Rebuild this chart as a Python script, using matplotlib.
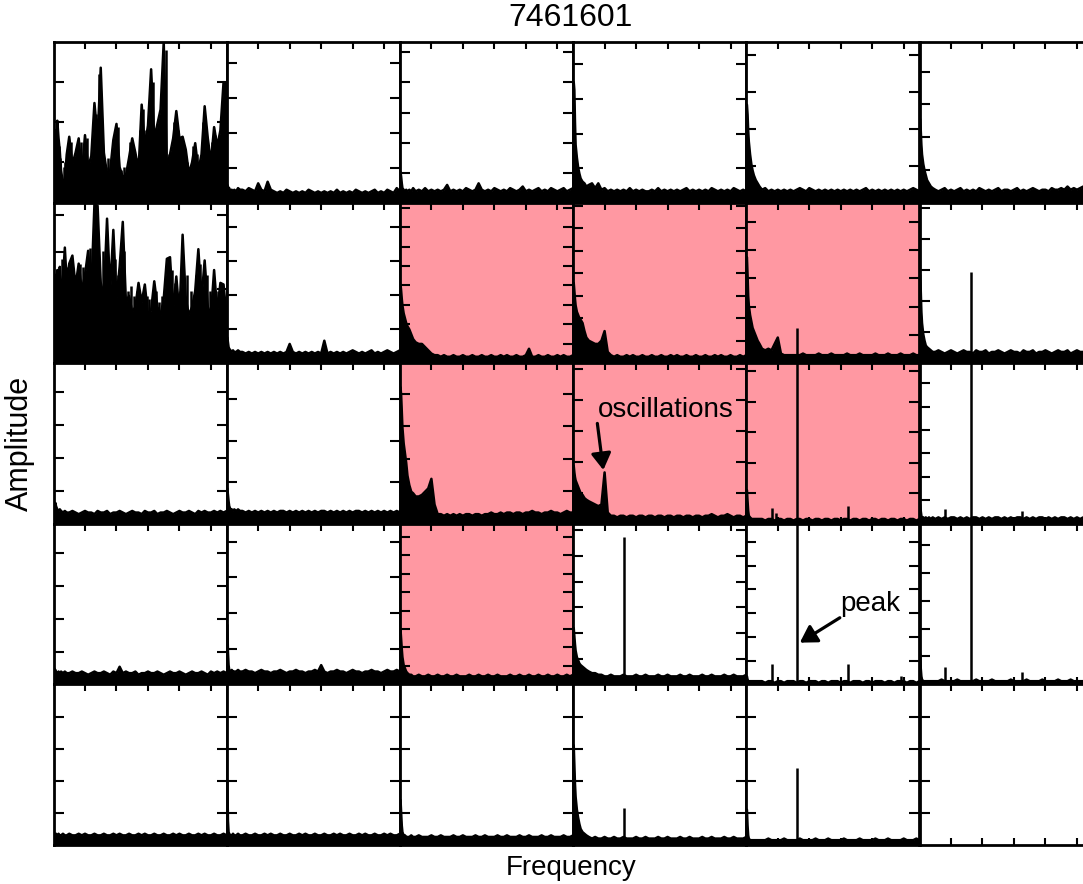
import numpy as np
import matplotlib.pyplot as plt

plt.rcParams['font.family'] = ['Liberation Sans', 'DejaVu Sans']

# frequency grid (uHz), finer near zero where the low-frequency rise sits
freq = [0, 1, 2, 3, 4, 6, 8, 10, 12, 15, 18, 21,
        25, 30, 35, 40, 45, 50, 55, 60, 65, 70,
        75, 80, 85, 90, 95, 100, 105, 110, 115, 120,
        125, 130, 135, 140, 145, 150, 155, 160, 165, 170,
        175, 180, 185, 190, 195, 200, 205, 210, 215, 220,
        225, 230, 235, 240, 245, 250, 255, 260, 265, 270, 275]

# amplitude of each panel, in percent of the panel's y range
a00 = [30, 38, 25, 45, 33, 51, 40, 32, 20, 12, 14, 30,
       41, 24, 31, 40, 18, 42, 22, 29, 62, 40,
       84, 31, 18, 20, 39, 49, 22, 16, 17, 28,
       40, 31, 20, 61, 35, 48, 83, 40, 49, 58,
       100, 22, 30, 40, 57, 40, 41, 33, 18, 25,
       37, 20, 30, 60, 40, 25, 47, 35, 45, 75, 70]
a01 = [11, 11, 10, 9, 9, 7, 8, 7, 8, 7, 9, 8,
       8, 7, 9, 8, 7, 12, 8, 7, 13, 8,
       7, 6, 7, 6, 8, 7, 6, 7, 6, 7,
       6, 8, 7, 6, 7, 6, 7, 6, 7, 6,
       8, 6, 7, 6, 7, 6, 8, 7, 6, 7,
       6, 7, 8, 6, 7, 6, 8, 7, 6, 9, 7]
a02 = [19, 19, 16, 12, 9, 8, 7, 8, 7, 8, 7, 9,
       7, 8, 7, 9, 7, 8, 7, 8, 7, 8,
       11, 7, 8, 7, 8, 7, 9, 8, 7, 8,
       12, 8, 7, 8, 7, 9, 8, 7, 8, 7,
       9, 8, 7, 8, 10, 7, 8, 7, 8, 9,
       7, 8, 7, 9, 8, 7, 8, 9, 7, 8, 9]
a03 = [75, 75, 70, 50, 36, 28, 22, 18, 15, 13, 12, 10,
       11, 12, 9, 12, 8, 9, 7, 8, 7, 8,
       7, 8, 7, 9, 7, 8, 7, 8, 7, 7,
       8, 7, 9, 7, 8, 7, 8, 7, 8, 7,
       8, 9, 7, 8, 7, 8, 7, 8, 7, 9,
       8, 7, 8, 7, 8, 7, 9, 8, 7, 8, 7]
a04 = [61, 61, 55, 45, 38, 30, 24, 20, 17, 14, 12, 10,
       8, 9, 7, 8, 7, 8, 7, 8, 7, 8,
       7, 8, 9, 8, 7, 9, 8, 7, 8, 7,
       8, 7, 8, 7, 8, 7, 8, 7, 8, 7,
       8, 7, 8, 9, 7, 8, 7, 8, 7, 8,
       7, 8, 7, 8, 7, 8, 7, 8, 9, 8, 7]
a05 = [52, 52, 45, 36, 30, 24, 20, 17, 14, 12, 10, 9,
       8, 7, 8, 9, 7, 8, 7, 8, 9, 7,
       8, 7, 8, 7, 9, 8, 7, 8, 7, 8,
       9, 7, 8, 8, 7, 8, 9, 7, 8, 7,
       8, 9, 8, 7, 8, 8, 7, 9, 8, 8,
       9, 8, 10, 8, 9, 8, 9, 10, 8, 9, 8]

a10 = [45, 50, 42, 55, 48, 58, 50, 60, 45, 52, 72, 50,
       62, 67, 48, 62, 45, 55, 70, 45, 99, 98,
       50, 42, 90, 45, 83, 40, 60, 88, 38, 42,
       32, 35, 50, 38, 49, 30, 33, 51, 35, 30,
       40, 65, 66, 33, 54, 30, 80, 40, 30, 35,
       45, 71, 40, 64, 35, 30, 58, 32, 50, 49, 28]
a11 = [16, 16, 13, 10, 9, 8, 7, 8, 7, 7, 8, 7,
       7, 6, 7, 6, 7, 6, 7, 6, 7, 6,
       7, 6, 7, 6, 7, 12, 7, 6, 7, 6,
       7, 6, 7, 6, 7, 6, 14, 6, 7, 6,
       7, 6, 7, 6, 7, 8, 7, 6, 7, 6,
       7, 8, 6, 7, 6, 7, 8, 7, 6, 7, 8]
a12 = [49, 49, 45, 40, 36, 31, 28, 25, 23, 21, 18, 15,
       13, 12, 12, 10, 8, 6, 5, 5, 4, 5,
       4, 4, 5, 4, 4, 5, 4, 4, 5, 4,
       4, 5, 4, 4, 5, 4, 4, 5, 4, 5,
       4, 4, 5, 4, 4, 5, 9, 4, 4, 5,
       4, 4, 5, 4, 4, 5, 4, 5, 4, 4, 5]
a13 = [50, 50, 45, 40, 36, 32, 30, 28, 27, 25, 20, 16,
       14, 13, 12, 12, 14, 20, 7, 5, 4, 5,
       4, 4, 5, 4, 5, 4, 4, 5, 4, 4,
       5, 4, 4, 5, 4, 4, 5, 4, 5, 4,
       4, 5, 4, 4, 5, 4, 4, 5, 4, 4,
       5, 4, 5, 4, 4, 5, 4, 4, 5, 4, 5]
a14 = [66, 66, 55, 42, 36, 30, 26, 22, 20, 17, 14, 12,
       9, 8, 9, 8, 12, 16, 6, 5, 5, 5,
       5, 5, 5, 6, 5, 5, 5, 5, 6, 5,
       5, 5, 6, 5, 5, 5, 5, 6, 5, 5,
       5, 6, 5, 5, 5, 5, 6, 5, 5, 5,
       6, 5, 5, 5, 6, 5, 5, 5, 6, 5, 5]
a15 = [55, 55, 45, 32, 25, 18, 14, 11, 10, 9, 8, 7,
       7, 8, 7, 6, 7, 8, 7, 6, 7, 8,
       7, 7, 6, 8, 7, 7, 8, 6, 7, 7,
       8, 7, 6, 7, 8, 7, 7, 6, 8, 7,
       7, 8, 6, 7, 7, 8, 7, 6, 7, 8,
       7, 7, 8, 6, 7, 8, 7, 7, 8, 7, 8]

a20 = [8, 9, 10, 13, 11, 9, 8, 9, 8, 7, 8, 7,
       7, 8, 7, 6, 7, 8, 7, 7, 6, 8,
       7, 7, 8, 6, 7, 7, 8, 7, 6, 7,
       8, 7, 7, 6, 8, 7, 7, 8, 6, 7,
       7, 8, 7, 6, 7, 8, 7, 7, 8, 7,
       6, 8, 7, 8, 7, 7, 8, 7, 8, 7, 8]
a21 = [22, 22, 18, 14, 11, 9, 9, 8, 9, 8, 9, 8,
       8, 7, 8, 7, 8, 7, 8, 7, 8, 7,
       8, 7, 8, 8, 7, 8, 7, 8, 7, 8,
       7, 8, 7, 8, 7, 8, 8, 7, 8, 7,
       8, 7, 8, 7, 8, 7, 8, 8, 7, 8,
       7, 8, 7, 8, 7, 8, 7, 8, 7, 8, 7]
a22 = [85, 85, 80, 70, 60, 50, 44, 38, 30, 24, 20, 19,
       17, 17, 18, 20, 22, 28, 12, 6, 6, 5,
       6, 5, 6, 5, 6, 5, 6, 6, 5, 6,
       6, 5, 6, 6, 7, 6, 6, 7, 6, 7,
       7, 6, 7, 7, 6, 7, 7, 8, 7, 7,
       6, 7, 7, 8, 7, 7, 6, 7, 8, 7, 7]
a23 = [36, 36, 32, 29, 27, 25, 23, 21, 19, 18, 16, 15,
       14, 13, 12, 11, 12, 32, 7, 5, 5, 4,
       5, 5, 4, 5, 5, 4, 5, 5, 4, 5,
       5, 4, 5, 5, 4, 5, 5, 4, 5, 5,
       4, 5, 5, 4, 5, 5, 4, 5, 5, 6,
       5, 4, 5, 5, 6, 5, 4, 5, 5, 4, 5]
a24 = [21, 21, 14, 8, 5, 4, 3, 3, 3, 3, 3, 3,
       3, 2, 3, 3, 2, 3, 3, 2, 3, 3,
       2, 3, 3, 2, 3, 3, 2, 3, 3, 2,
       3, 3, 2, 3, 3, 2, 3, 3, 2, 3,
       3, 2, 3, 3, 2, 3, 3, 2, 3, 3,
       2, 3, 3, 2, 3, 3, 2, 3, 3, 2, 3]
a25 = [12, 12, 8, 5, 4, 4, 3, 4, 3, 4, 3, 4,
       3, 4, 3, 4, 3, 4, 4, 3, 4, 3,
       4, 3, 4, 4, 3, 4, 3, 4, 3, 4,
       4, 3, 4, 3, 4, 3, 4, 4, 3, 4,
       3, 4, 3, 4, 4, 3, 4, 3, 4, 3,
       4, 4, 3, 4, 3, 4, 3, 4, 4, 3, 4]

a30 = [10, 10, 9, 9, 8, 7, 8, 7, 8, 7, 8, 7,
       7, 8, 7, 7, 8, 7, 6, 7, 8, 7,
       7, 8, 7, 6, 8, 7, 11, 7, 8, 7,
       7, 8, 6, 7, 7, 8, 7, 7, 8, 7,
       6, 7, 8, 7, 7, 8, 7, 6, 7, 8,
       7, 7, 8, 7, 6, 8, 7, 8, 7, 8, 7]
a31 = [37, 37, 20, 12, 9, 8, 9, 8, 8, 8, 9, 8,
       8, 9, 8, 8, 7, 8, 9, 8, 8, 7,
       8, 8, 9, 8, 7, 8, 8, 9, 8, 8,
       7, 8, 8, 9, 8, 12, 8, 7, 8, 8,
       9, 8, 8, 7, 8, 9, 8, 8, 7, 8,
       8, 9, 8, 8, 7, 8, 9, 8, 8, 9, 8]
a32 = [34, 34, 28, 22, 17, 12, 10, 8, 7, 6, 6, 5,
       5, 6, 5, 5, 6, 5, 5, 6, 5, 5,
       6, 5, 5, 6, 5, 5, 5, 6, 5, 5,
       6, 5, 5, 6, 5, 5, 6, 5, 5, 5,
       6, 5, 5, 6, 5, 5, 6, 5, 5, 6,
       5, 5, 6, 5, 5, 6, 5, 5, 6, 5, 6]
a33 = [35, 35, 30, 25, 21, 17, 15, 13, 12, 11, 10, 9,
       8, 7, 7, 6, 6, 5, 5, 6, 5, 5,
       5, 6, 5, 5, 5, 6, 5, 5, 6, 5,
       5, 5, 6, 5, 5, 6, 5, 5, 5, 6,
       5, 5, 6, 5, 5, 5, 6, 5, 5, 6,
       5, 5, 5, 6, 5, 5, 6, 5, 5, 5, 6]
a34 = [5, 5, 3, 2, 2, 2, 2, 2, 2, 2, 2, 2,
       2, 1, 2, 2, 1, 2, 2, 1, 2, 2,
       2, 1, 2, 2, 1, 2, 2, 2, 1, 2,
       2, 1, 2, 2, 2, 1, 2, 2, 1, 2,
       2, 2, 1, 2, 2, 1, 2, 2, 2, 1,
       2, 2, 1, 2, 2, 2, 1, 2, 2, 1, 2]
a35 = [19, 19, 10, 5, 3, 2, 2, 2, 2, 2, 2, 2,
       2, 2, 3, 2, 2, 2, 2, 3, 2, 2,
       2, 2, 2, 3, 2, 2, 2, 2, 3, 2,
       2, 2, 2, 2, 3, 2, 2, 2, 2, 3,
       2, 2, 2, 2, 3, 2, 2, 2, 2, 3,
       2, 2, 2, 3, 2, 2, 2, 2, 3, 2, 2]

a40 = [7, 7, 7, 6, 7, 6, 7, 6, 6, 7, 6, 6,
       7, 6, 6, 7, 6, 7, 6, 6, 7, 6,
       6, 7, 6, 6, 7, 6, 7, 6, 6, 7,
       6, 6, 7, 6, 7, 6, 6, 7, 6, 6,
       7, 6, 6, 7, 6, 7, 6, 6, 7, 6,
       6, 7, 6, 7, 6, 6, 7, 6, 6, 7, 6]
a41 = [40, 40, 15, 8, 7, 6, 6, 7, 6, 6, 7, 6,
       6, 7, 6, 6, 7, 6, 6, 7, 6, 7,
       6, 6, 7, 6, 6, 7, 6, 6, 7, 6,
       7, 6, 6, 7, 6, 6, 7, 6, 6, 7,
       6, 7, 6, 6, 7, 6, 6, 7, 6, 7,
       6, 6, 7, 6, 6, 7, 6, 7, 6, 6, 7]
a42 = [28, 28, 20, 12, 8, 6, 6, 5, 5, 5, 6, 5,
       5, 6, 5, 5, 5, 6, 5, 5, 6, 5,
       5, 5, 6, 5, 5, 6, 5, 5, 5, 6,
       5, 5, 6, 5, 5, 5, 6, 5, 5, 6,
       5, 5, 5, 6, 5, 5, 6, 5, 5, 5,
       6, 5, 5, 6, 5, 5, 5, 6, 5, 5, 6]
a43 = [62, 62, 50, 38, 30, 22, 17, 13, 10, 8, 7, 6,
       5, 4, 5, 4, 4, 5, 4, 4, 5, 4,
       4, 5, 4, 4, 4, 5, 4, 4, 5, 4,
       4, 4, 5, 4, 4, 5, 4, 4, 4, 5,
       4, 4, 5, 4, 4, 4, 5, 4, 4, 5,
       4, 4, 4, 5, 4, 4, 5, 4, 4, 4, 5]
a44 = [22, 22, 12, 6, 4, 3, 3, 3, 3, 3, 3, 3,
       3, 3, 4, 3, 3, 3, 3, 4, 3, 3,
       3, 3, 4, 3, 3, 3, 3, 4, 3, 3,
       3, 4, 3, 3, 3, 3, 4, 3, 3, 3,
       3, 4, 3, 3, 3, 3, 4, 3, 3, 3,
       4, 3, 3, 3, 3, 4, 3, 3, 3, 4, 3]

spectra = [[a00, a01, a02, a03, a04, a05],
           [a10, a11, a12, a13, a14, a15],
           [a20, a21, a22, a23, a24, a25],
           [a30, a31, a32, a33, a34, a35],
           [a40, a41, a42, a43, a44, None]]

# narrow peaks between grid bins: (frequencies, amplitudes in percent)
spikes = {(0, 0): ([2, 5, 9, 11, 17, 19, 23, 27, 33, 37, 43, 47, 53, 57, 62,
                    68, 72, 77, 83, 87, 92, 98, 103, 107, 112, 117, 122, 127,
                    132, 137, 142, 147, 152, 158, 162, 167, 172, 178, 183, 187,
                    192, 197, 202, 207, 212, 217, 222, 228, 232, 237, 242, 247,
                    252, 257, 262, 264, 267, 272],
                   [30, 40, 35, 28, 22, 25, 30, 38, 28, 35, 38, 25, 40, 25, 30,
                    55, 80, 45, 22, 28, 25, 40, 47, 20, 22, 20, 38, 30,
                    28, 45, 58, 45, 40, 75, 45, 35, 55, 95, 30, 28,
                    50, 45, 38, 35, 25, 22, 35, 30, 25, 50, 45, 30,
                    38, 42, 40, 35, 60, 76]),
          (1, 0): ([4, 13, 17, 22, 28, 35, 42, 47, 52, 58, 63, 68, 78, 82, 88,
                    98, 103, 112, 118, 123, 128, 133, 138, 143, 148, 152, 158,
                    163, 168, 172, 178, 188, 193, 198, 201, 208, 212, 218, 223,
                    227, 233, 238, 243, 248, 252, 258, 262, 268, 273],
                   [55, 65, 60, 60, 58, 55, 62, 60, 55, 72, 75, 85, 70, 60, 62,
                    65, 55, 70, 45, 48, 42, 45, 40, 45, 42, 40, 45,
                    45, 38, 42, 45, 58, 50, 40, 45, 42, 55, 45, 40,
                    55, 62, 45, 55, 45, 40, 45, 45, 49, 35]),
          (1, 4): ([81], [22]),
          (1, 5): ([81], [57]),
          (2, 4): ([41, 47, 81, 162], [10, 7, 105, 11]),
          (2, 5): ([41, 81, 162], [9, 105, 8]),
          (3, 3): ([81], [92]),
          (3, 4): ([41, 81, 162, 246], [13, 105, 13, 5]),
          (3, 5): ([41, 81, 162], [11, 105, 8]),
          (4, 3): ([81], [23]),
          (4, 4): ([81], [48])}

# y tick spacing of each panel, percent of its range
ystep = [[25.0, 21.8, 18.7, 21.5, 22.9, 20.4],
         [23.0, 21.2, 12.1, 14.0, 17.6, 19.3],
         [20.5, 25.8, 20.2, 19.3, 19.0, 14.6],
         [20.4, 22.2, 11.5, 16.0, 14.8, 17.4],
         [20.0, 20.0, 20.0, 20.0, 20.0, 20.0]]

highlighted = [(1, 2), (1, 3), (1, 4), (2, 2), (2, 3), (2, 4), (3, 2)]
pink = '#ff98a2'

W, H = 1083, 884
fig = plt.figure(figsize=(W / 100, H / 100), dpi=100)
left0, colw, top0, rowh = 53.5, 173.2, 42.0, 160.6

axes = {}
for r in range(5):
    for c in range(6):
        ax = fig.add_axes([(left0 + c * colw) / W, 1 - (top0 + (r + 1) * rowh) / H,
                           colw / W, rowh / H])
        axes[(r, c)] = ax
        if (r, c) in highlighted:
            ax.set_facecolor(pink)
        amp = spectra[r][c]
        if amp is not None:
            assert len(amp) == len(freq)
            ax.fill_between(freq, 0, amp, color='k', lw=0)
            ax.plot(freq, amp, color='k', lw=1.8)
        if (r, c) in spikes:
            pf, pa = spikes[(r, c)]
            ax.vlines(pf, 0, pa, color='k', lw=1.8)
        ax.set_xlim(0, 275)
        ax.set_ylim(0, 100)
        ax.set_xticks([50, 100, 150, 200, 250])
        st = ystep[r][c]
        ax.set_yticks(np.arange(st, 100 - 1, st))
        ax.tick_params(direction='in', top=True, right=True, width=1.5,
                       labelbottom=False, labelleft=False)
        ax.tick_params(axis='x', length=5)
        ax.tick_params(axis='y', length=7)
        for s in ax.spines.values():
            s.set_linewidth(2.0)

fig.text(571 / W, 1 - 18 / H, '7461601', ha='center', va='center', fontsize=23)
fig.text(20 / W, 1 - 443 / H, 'Amplitude', ha='center', va='center',
         rotation=90, fontsize=22)
fig.text(571 / W, 1 - 868 / H, 'Frequency', ha='center', va='center', fontsize=20)

arrow = dict(arrowstyle='-|>,head_length=0.5,head_width=0.3', color='k', lw=2.3,
             shrinkA=0, shrinkB=0, mutation_scale=20)

ax = axes[(2, 3)]
ax.text(39.5, 71, 'oscillations', ha='left', va='center', fontsize=20, clip_on=False)
ax.annotate('', xy=(48, 33.5), xytext=(38.5, 62.5), arrowprops=arrow)

ax = axes[(3, 4)]
ax.text(148.5, 50, 'peak', ha='left', va='center', fontsize=20, clip_on=False)
ax.annotate('', xy=(85, 26), xytext=(148.5, 41.5), arrowprops=arrow)

fig.savefig('out.png', dpi=100)
